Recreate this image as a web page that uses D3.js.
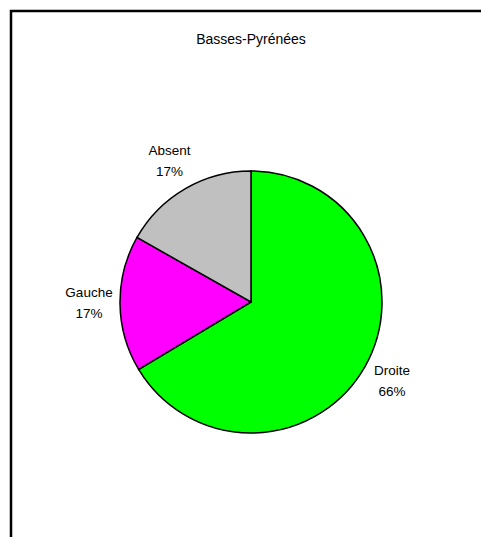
<!DOCTYPE html>
<html><head><meta charset="utf-8">
<script src="https://cdn.jsdelivr.net/npm/d3@7"></script>
<style>body{margin:0;background:#fff}svg{display:block}</style>
</head><body>
<svg id="c" width="481" height="537"></svg>
<script>
const title = "Basses-Pyrénées";
const categories = ["Droite", "Gauche", "Absent"];
const values = [66.4, 16.8, 16.8];
const labels = ["66%", "17%", "17%"];
const colors = ["#00FF00", "#FF00FF", "#C0C0C0"];

const svg = d3.select("#c");
svg.append("path").attr("d", "M11,540 L11,11 L490,11").attr("fill", "none").attr("stroke", "#000").attr("stroke-width", 2.5);
svg.append("text").attr("x", 251).attr("y", 44).attr("text-anchor", "middle")
  .attr("font-family", "Liberation Sans, Arial, sans-serif").attr("font-size", 14).text(title);

const cx = 251, cy = 302, r = 131;
const pie = d3.pie().sort(null).value(d => d)(values);
const arc = d3.arc().innerRadius(0).outerRadius(r);
const g = svg.append("g").attr("transform", `translate(${cx},${cy})`);
g.selectAll("path").data(pie).join("path").attr("d", arc)
  .attr("fill", (d, i) => colors[i]).attr("stroke", "#000").attr("stroke-width", 1.5);
const pos = d => {
  const a = (d.startAngle + d.endAngle) / 2;
  return [Math.sin(a) * 162, -Math.cos(a) * 162 + 3];
};
const t = g.selectAll("text").data(pie).join("text")
  .attr("transform", d => `translate(${pos(d)})`).attr("text-anchor", "middle")
  .attr("font-family", "Liberation Sans, Arial, sans-serif").attr("font-size", 13.5);
t.append("tspan").attr("x", 0).attr("y", -10).text((d, i) => categories[i]);
t.append("tspan").attr("x", 0).attr("y", 11).text((d, i) => labels[i]);
</script>
</body></html>
